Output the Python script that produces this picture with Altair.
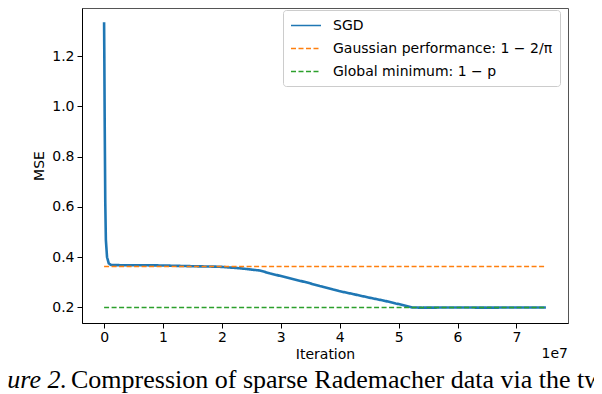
import altair as alt
import pandas as pd

# SGD training curve (iteration, MSE)
sgd_iter = [0.0, 0.004e7, 0.01e7, 0.02e7, 0.03e7, 0.05e7, 0.08e7, 0.12e7, 0.3e7, 0.6e7,
            1.0e7, 1.5e7, 1.96e7, 2.3e7, 2.64e7, 2.81e7, 3.1e7, 3.43e7, 3.7e7, 3.99e7,
            4.25e7, 4.5e7, 4.75e7, 4.95e7, 5.1e7, 5.23e7, 5.4e7, 6.0e7, 6.5e7, 7.0e7, 7.5e7]
sgd_mse = [1.335, 1.20, 0.95, 0.62, 0.47, 0.40, 0.375, 0.369, 0.368, 0.368,
           0.367, 0.364, 0.362, 0.356, 0.347, 0.336, 0.319, 0.300, 0.283, 0.265,
           0.252, 0.239, 0.227, 0.216, 0.208, 0.200, 0.199, 0.200, 0.199, 0.200, 0.200]

ref_iter = [0.0, 7.5e7]
gauss_val = [0.3634, 0.3634]     # 1 - 2/pi
global_val = [0.2, 0.2]          # 1 - p

series_names = ["SGD", "Gaussian performance: 1 − 2/π", "Global minimum: 1 − p"]
series_colors = ["#1f77b4", "#ff7f0e", "#2ca02c"]

x_ticks = [0, 1e7, 2e7, 3e7, 4e7, 5e7, 6e7, 7e7]
y_ticks = [0.2, 0.4, 0.6, 0.8, 1.0, 1.2]

rows = []
for x, y in zip(sgd_iter, sgd_mse):
    rows.append({"iter": x, "mse": y, "series": series_names[0], "w": 2.6, "o": 0})
for x, y in zip(ref_iter, gauss_val):
    rows.append({"iter": x, "mse": y, "series": series_names[1], "w": 1.5, "o": 1})
for x, y in zip(ref_iter, global_val):
    rows.append({"iter": x, "mse": y, "series": series_names[2], "w": 1.5, "o": 2})
df = pd.DataFrame(rows)

W, H = 486, 315

lines = alt.Chart(df).mark_line().encode(
    x=alt.X("iter:Q",
            scale=alt.Scale(domain=[-0.375e7, 7.875e7], nice=False, zero=False),
            axis=alt.Axis(title="Iteration", values=x_ticks,
                          labelExpr="format(datum.value / 1e7, 'd')",
                          labelPadding=2, titlePadding=3)),
    y=alt.Y("mse:Q",
            scale=alt.Scale(domain=[0.138, 1.392], nice=False, zero=False),
            axis=alt.Axis(title="MSE", values=y_ticks, format=".1f",
                          labelPadding=3, titlePadding=5)),
    color=alt.Color("series:N",
                    scale=alt.Scale(domain=series_names, range=series_colors),
                    legend=alt.Legend(title=None, orient="none", legendX=201, legendY=2,
                                      symbolType="M-1,0H3", symbolSize=225,
                                      symbolStrokeWidth=1.5,
                                      labelFont="DejaVu Sans", labelFontSize=14,
                                      labelColor="black", labelOffset=26,
                                      labelLimit=0,
                                      rowPadding=7, padding=7,
                                      strokeColor="#cccccc", fillColor="white",
                                      cornerRadius=3)),
    strokeDash=alt.StrokeDash("series:N",
                              scale=alt.Scale(domain=series_names,
                                              range=[[1, 0], [5, 2.5], [5, 2.5]]),
                              legend=None),
    strokeWidth=alt.StrokeWidth("w:Q", scale=None, legend=None),
    order=alt.Order("o:Q"),
    detail="series:N",
)

offset_text = alt.Chart(pd.DataFrame({"t": ["1e7"]})).mark_text(
    font="DejaVu Sans", fontSize=14, align="right", baseline="middle", color="black"
).encode(text="t:N", x=alt.value(W), y=alt.value(H + 31))

cap_a = alt.Chart(pd.DataFrame({"t": ["Figure 2."]})).mark_text(
    font="Liberation Serif", fontSize=26, fontStyle="italic", align="right",
    baseline="alphabetic", color="black"
).encode(text="t:N", x=alt.value(-15), y=alt.value(380))

cap_b = alt.Chart(pd.DataFrame({"t": ["Compression of sparse Rademacher data via the two"]})).mark_text(
    font="Liberation Serif", fontSize=26, align="left",
    baseline="alphabetic", color="black"
).encode(text="t:N", x=alt.value(-11), y=alt.value(380))

chart = alt.layer(lines, offset_text, cap_a, cap_b).properties(
    width=W, height=H,
    autosize=alt.AutoSizeParams(type="none"),
    padding={"left": 74, "top": 0, "right": 26, "bottom": 71},
).configure_view(
    stroke="#555555", strokeWidth=1
).configure_axis(
    grid=False, domainColor="black", tickColor="black", labelColor="black",
    titleColor="black", labelFont="DejaVu Sans", titleFont="DejaVu Sans",
    labelFontSize=14, titleFontSize=14, titleFontWeight="normal",
    tickSize=5, domainWidth=1, tickWidth=1
)

chart.save("out.html", embed_options={"renderer": "svg", "actions": False})
